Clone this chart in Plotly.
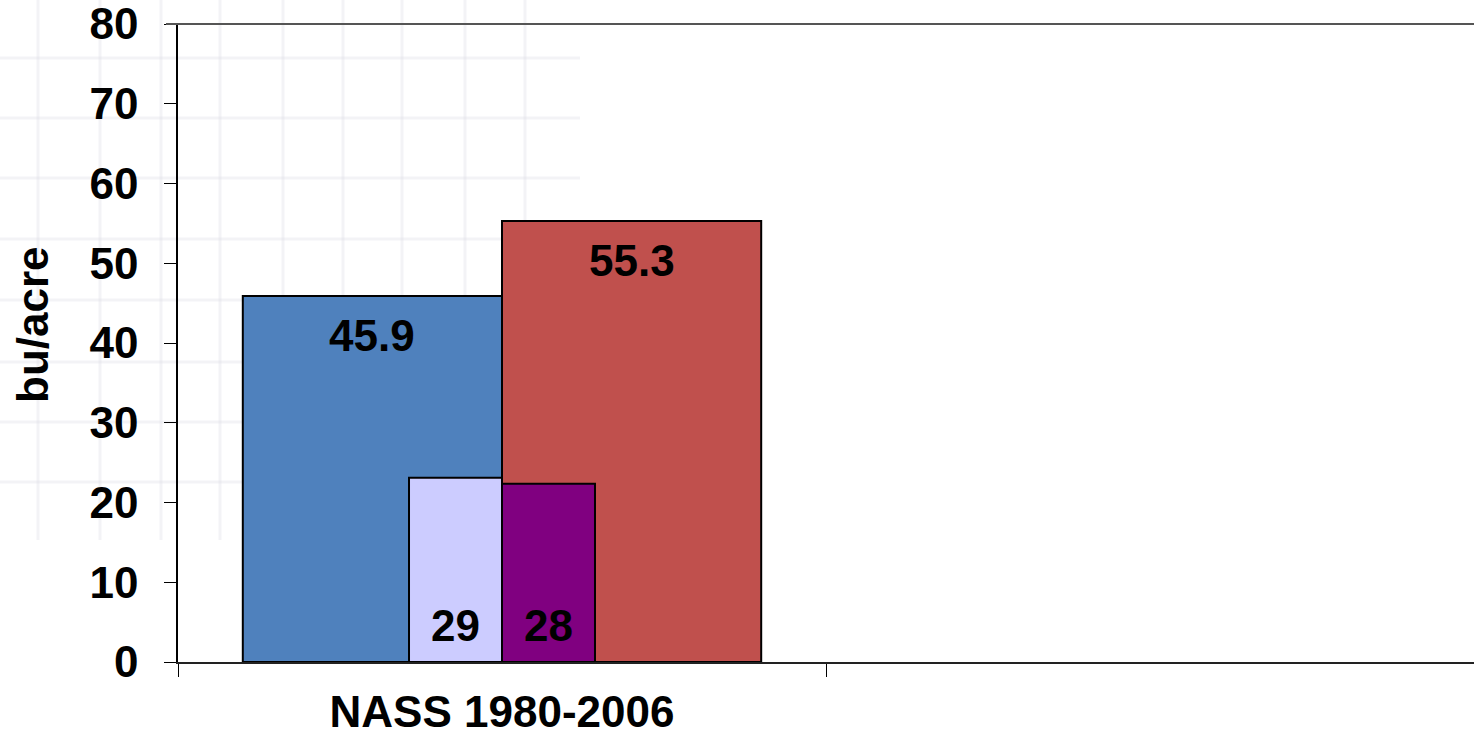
import plotly.graph_objects as go

# ---- data ----
categories = ["NASS 1980-2006", " "]
series_names = ["Series A", "Series B", "Series C", "Series D"]
blue_values = [45.9, None]
red_values = [55.3, None]
lavender_values = [23.1, None]
purple_values = [22.35, None]
blue_labels = ["45.9", ""]
red_labels = ["55.3", ""]
lavender_labels = ["29", ""]
purple_labels = ["28", ""]
y_tick_values = [0, 10, 20, 30, 40, 50, 60, 70, 80]
y_title = "bu/acre"

# ---- style ----
FONT = "Liberation Sans, Arial, sans-serif"
W, H = 1474, 738
ML, MR, MT, MB = 178, 0, 24, 76
PW, PH = W - ML - MR, H - MT - MB

specs = [
    (blue_values, blue_labels, "#4F81BD", -0.40, 0.40, "top"),
    (red_values, red_labels, "#C0504D", 0.0, 0.40, "top"),
    (lavender_values, lavender_labels, "#CCCCFF", -0.1435, 0.1435, "base"),
    (purple_values, purple_labels, "#800080", 0.0, 0.1435, "base"),
]

fig = go.Figure()
annotations = []
lab_font = dict(family=FONT, size=44, color="#000", weight="bold")
for name, (vals, labs, color, off, wid, place) in zip(series_names, specs):
    fig.add_trace(go.Bar(
        x=categories, y=vals, name=name,
        offset=off, width=wid,
        marker=dict(color=color, line=dict(color="#000000", width=2)),
        hoverinfo="skip",
    ))
    for i, (v, t) in enumerate(zip(vals, labs)):
        if v is None or not t:
            continue
        xc = i + off + wid / 2
        if place == "top":
            annotations.append(dict(x=xc, y=v, xref="x", yref="y", text=t,
                                    showarrow=False, yanchor="middle", yshift=-40,
                                    font=lab_font))
        else:
            annotations.append(dict(x=xc, y=0, xref="x", yref="y", text=t,
                                    showarrow=False, yanchor="middle", yshift=37,
                                    font=lab_font))

def px2paper_x(px):
    return (px - ML) / PW
def px2paper_y(py):
    return (H - MB - py) / PH

# y-axis title
annotations.append(dict(x=px2paper_x(32), y=px2paper_y(325), xref="paper", yref="paper",
                        text=y_title, textangle=-90, showarrow=False,
                        xanchor="center", yanchor="middle",
                        font=dict(family=FONT, size=44, color="#000", weight="bold")))

# faint background watermark grid (slide background decoration)
shapes = []
for gx in [38, 100, 161, 220, 283, 343, 402, 465, 525]:
    shapes.append(dict(type="line", xref="paper", yref="paper", layer="below",
                       x0=px2paper_x(gx), x1=px2paper_x(gx), y0=px2paper_y(0), y1=px2paper_y(540),
                       line=dict(color="rgba(220,220,230,0.35)", width=3)))
for gy in [58, 118, 178, 239, 300, 362, 422, 482]:
    shapes.append(dict(type="line", xref="paper", yref="paper", layer="below",
                       x0=px2paper_x(0), x1=px2paper_x(580), y0=px2paper_y(gy), y1=px2paper_y(gy),
                       line=dict(color="rgba(220,220,230,0.35)", width=3)))
# top border of plot area
shapes.append(dict(type="line", xref="paper", yref="paper",
                   x0=px2paper_x(166), x1=1, y0=1, y1=1,
                   line=dict(color="#555555", width=2)))

fig.update_layout(
    width=W, height=H,
    margin=dict(l=ML, r=MR, t=MT, b=MB, pad=0, autoexpand=False),
    paper_bgcolor="white", plot_bgcolor="rgba(0,0,0,0)",
    barmode="overlay", showlegend=False,
    annotations=annotations, shapes=shapes,
    font=dict(family=FONT, color="#000"),
    xaxis=dict(
        type="category", categoryorder="array", categoryarray=categories,
        range=[-0.5, 1.5], tickson="boundaries", automargin=False,
        ticks="outside", ticklen=13, tickwidth=1, tickcolor="#000",
        showline=True, linecolor="#222", linewidth=2,
        showgrid=False, zeroline=False,
        tickfont=dict(family=FONT, size=44, color="#000", weight="bold"),
        ticklabelstandoff=10,
    ),
    yaxis=dict(
        range=[0, 80], tickvals=y_tick_values, automargin=False,
        ticks="outside", ticklen=12, tickwidth=1, tickcolor="#000",
        showline=True, linecolor="#000", linewidth=1.5,
        showgrid=False, zeroline=False,
        tickfont=dict(family=FONT, size=44, color="#000", weight="bold"),
        ticklabelstandoff=17, ticklabeloverflow="allow",
    ),
)

fig.write_html("out.html", config={"displayModeBar": False},
               post_script="document.body.style.margin='0';document.body.style.overflow='hidden';")
